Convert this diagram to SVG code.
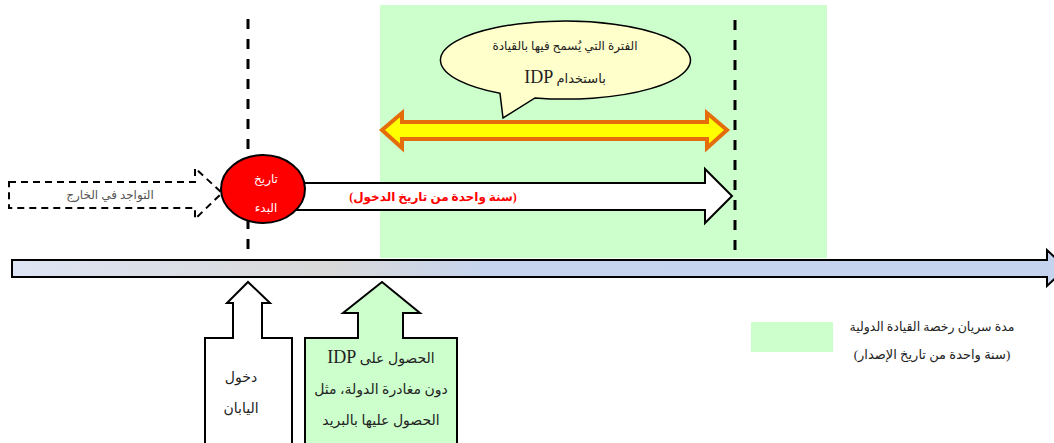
<svg xmlns="http://www.w3.org/2000/svg" width="1054" height="443" viewBox="0 0 1054 443">
<style>
text{font-family:"Liberation Serif","DejaVu Sans","Noto Sans",serif;font-size:15px;fill:#222;direction:rtl;text-anchor:middle}
.lat{font-family:"Liberation Serif",serif;font-size:18px}
.dash{stroke:#000;stroke-width:3;stroke-dasharray:10 10;fill:none}
.box{stroke:#000;stroke-width:2;stroke-linejoin:miter}
</style>
<defs>
<linearGradient id="tl" x1="0" y1="0" x2="1" y2="0">
<stop offset="0" stop-color="#dde4f3"/>
<stop offset="0.3" stop-color="#d9d9d9"/>
<stop offset="0.45" stop-color="#c6d4ee"/>
<stop offset="1" stop-color="#c5d3ee"/>
</linearGradient>
</defs>
<g id="validity-region"><rect x="380" y="5" width="447" height="253" fill="#ccffcc"/></g>
<g id="connectors">
<line class="dash" x1="248" y1="19" x2="248" y2="258"/>
<line class="dash" x1="735" y1="20" x2="735" y2="258"/>
</g>
<g id="timeline">
<path d="M12 260 H1047 V250 L1066 268 L1047 286 V277 H12 Z" fill="url(#tl)" stroke="#000" stroke-width="2"/>
</g>
<g id="abroad">
<path d="M9 182 H195 V168 L222 193 L195 219 V208 H9 Z" fill="#fff" stroke="#000" stroke-width="2" stroke-dasharray="7 5"/>
<text x="110" y="199" style="fill:#555;font-size:12px">التواجد في الخارج</text>
</g>
<g id="one-year-arrow">
<path d="M290 183 H705 V169 L732 196 L705 223 V210 H290 Z" fill="#fff" class="box"/>
<text x="433" y="201" style="fill:#ff0000;font-weight:bold;font-size:12px">(سنة واحدة من تاريخ الدخول)</text>
</g>
<g id="start-date">
<ellipse cx="263" cy="189" rx="42" ry="34" fill="#ff0000" stroke="#000" stroke-width="2"/>
<text x="266" y="183" style="fill:#fff;font-size:12px">تاريخ</text>
<text x="266" y="212" style="fill:#fff;font-size:12px">البدء</text>
</g>
<g id="allowed-period">
<path d="M382 130 L402 113 V122 H707 V113 L727 130 L707 148 V139 H402 V148 Z" fill="#ffff00" stroke="#e46c0a" stroke-width="4" stroke-linejoin="miter"/>
</g>
<g id="callout">
<path d="M500 93.3 A125 39 0 1 1 535 97.9 L503 118 Z" fill="#ffffcc" stroke="#000" stroke-width="1.5"/>
<text x="565" y="50" style="font-size:12px">الفترة التي يُسمح فيها بالقيادة</text>
<text x="565" y="83" style="font-size:13px">باستخدام <tspan class="lat">IDP</tspan></text>
</g>
<g id="entry-japan">
<path d="M205 445 V338 H233 V303 H227 L248 282 L270 303 H262 V338 H292 V445" fill="#fff" class="box"/>
<text x="241" y="382" style="font-size:14px">دخول</text>
<text x="241" y="413" style="font-size:14px">اليابان</text>
</g>
<g id="idp-mail">
<path d="M305 445 V338 H358 V313 H343 L382 282 L420 313 H403 V338 H457 V445" fill="#ccffcc" class="box"/>
<text x="381" y="363" style="font-size:14px">الحصول على  <tspan class="lat">IDP</tspan></text>
<text x="381" y="394" style="font-size:14px">دون مغادرة الدولة، مثل</text>
<text x="381" y="425" style="font-size:14px">الحصول عليها بالبريد</text>
</g>
<g id="legend">
<rect x="751" y="322" width="82" height="30" fill="#ccffcc"/>
<text x="932" y="331" style="font-size:12.5px">مدة سريان رخصة القيادة الدولية</text>
<text x="932" y="359" style="font-size:13px">(سنة واحدة من تاريخ الإصدار)</text>
</g>
</svg>
